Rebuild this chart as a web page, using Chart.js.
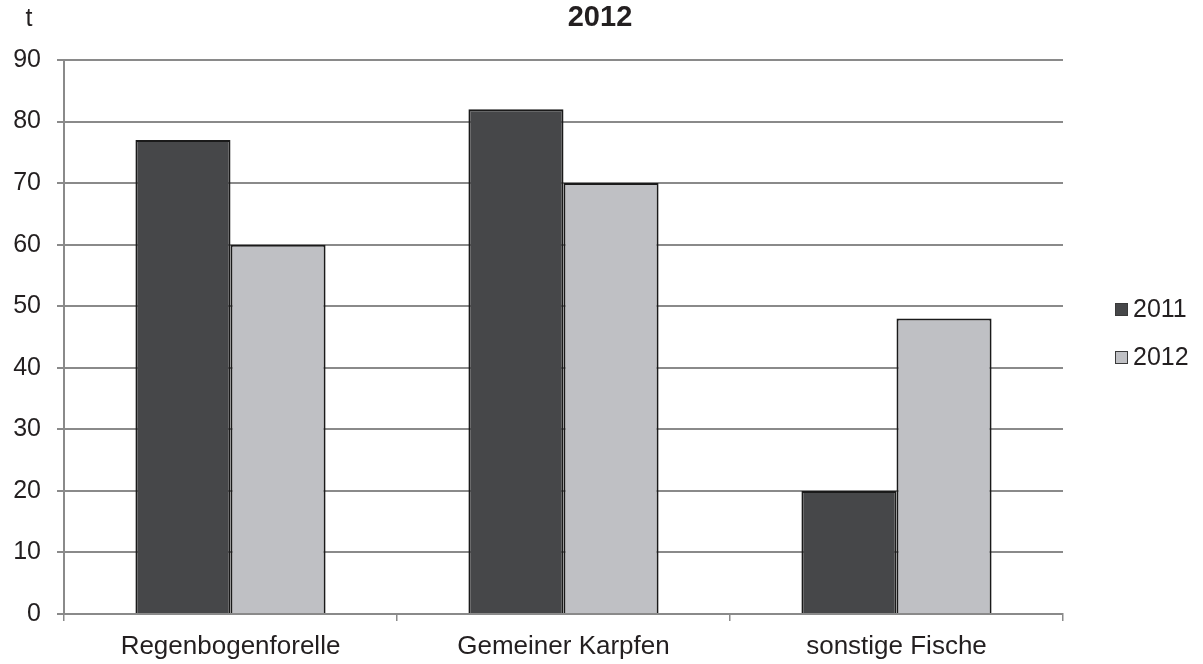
<!DOCTYPE html>
<html>
<head>
<meta charset="utf-8">
<script src="https://cdn.jsdelivr.net/npm/chart.js@4/dist/chart.umd.min.js"></script>
<style>
html,body{margin:0;padding:0;background:#fff;}
#wrap{width:1203px;height:664px;position:relative;}
</style>
</head>
<body>
<div id="wrap"><canvas id="c" width="1203" height="664"></canvas></div>
<script>
const categories = ["Regenbogenforelle", "Gemeiner Karpfen", "sonstige Fische"];
const series2011 = [77, 82, 20];
const series2012 = [60, 70, 48];
const seriesLabels = ["2011", "2012"];
const yTicks = [0, 10, 20, 30, 40, 50, 60, 70, 80, 90];
const chartTitle = "2012";
const unitLabel = "t";

const FONT = "'Liberation Sans', Arial, sans-serif";

const extras = {
  id: 'extras',
  afterDraw(chart) {
    const ctx = chart.ctx;
    ctx.save();
    ctx.fillStyle = '#231f20';
    ctx.textBaseline = 'middle';
    ctx.font = "bold 29px " + FONT;
    ctx.textAlign = 'center';
    ctx.fillText(chartTitle, 600, 18);
    ctx.font = "25px " + FONT;
    ctx.textAlign = 'center';
    ctx.fillText(unitLabel, 29, 19);
    // legend
    const ys = [309, 357];
    chart.data.datasets.forEach((ds, i) => {
      const y = ys[i];
      ctx.fillStyle = ds.backgroundColor;
      ctx.fillRect(1115, y - 6, 13, 13);
      ctx.strokeStyle = '#3a3a3a';
      ctx.lineWidth = 1;
      ctx.strokeRect(1115.5, y - 5.5, 12, 12);
      ctx.fillStyle = '#231f20';
      ctx.textAlign = 'left';
      ctx.font = "25px " + FONT;
      ctx.fillText(ds.label, 1133, y + 1);
    });
    ctx.restore();
  }
};

new Chart(document.getElementById('c'), {
  type: 'bar',
  data: {
    labels: categories,
    datasets: [
      { label: seriesLabels[0], data: series2011, backgroundColor: '#464749', borderColor: '#1a1a1a', borderWidth: 2 },
      { label: seriesLabels[1], data: series2012, backgroundColor: '#bfc0c4', borderColor: '#1a1a1a', borderWidth: 2 }
    ]
  },
  options: {
    responsive: false,
    animation: false,
    layout: { padding: { top: 60, left: 0, right: 140, bottom: 0 } },
    datasets: { bar: { categoryPercentage: 0.571, barPercentage: 1.0 } },
    plugins: { legend: { display: false }, title: { display: false }, tooltip: { enabled: false } },
    scales: {
      x: {
        offset: true,
        grid: { offset: true, drawOnChartArea: false, drawTicks: true, tickLength: 7, color: '#8a8a8a', lineWidth: 1.5 },
        border: { display: true, color: '#8a8a8a', width: 2 },
        ticks: { color: '#231f20', font: { family: FONT, size: 26 }, padding: 10 },
        afterFit(scale) { scale.height = 50; }
      },
      y: {
        min: 0, max: 90,
        afterBuildTicks(scale) { scale.ticks = yTicks.map(v => ({ value: v })); },
        grid: { color: '#8a8a8a', lineWidth: 2, tickLength: 7, drawTicks: true },
        border: { display: true, color: '#8a8a8a', width: 2 },
        ticks: { color: '#231f20', font: { family: FONT, size: 25 }, padding: 16 },
        afterFit(scale) { scale.width = 64; }
      }
    }
  },
  plugins: [extras]
});
</script>
</body>
</html>
